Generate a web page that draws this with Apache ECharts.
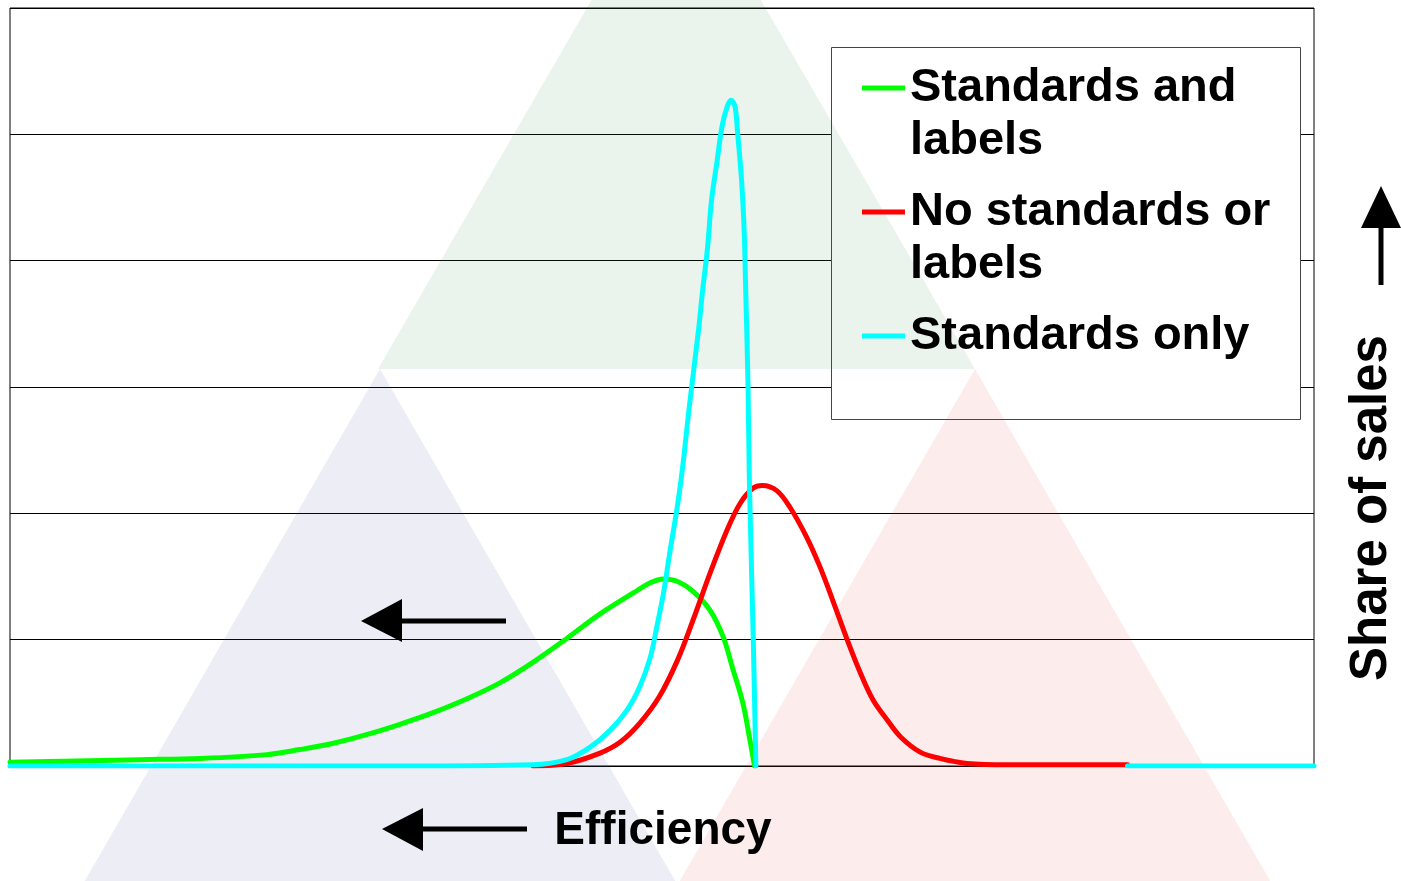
<!DOCTYPE html>
<html>
<head>
<meta charset="utf-8">
<script src="https://cdn.jsdelivr.net/npm/echarts@6/dist/echarts.min.js"></script>
<style>
  html, body { margin: 0; padding: 0; background: #fff; }
  #chart { width: 1401px; height: 881px; }
</style>
</head>
<body>
<div id="chart"></div>
<script>
// x = efficiency (0-100, arbitrary), y = share of sales (0-6, one grid step each)
var seriesNames = ['Standards and\nlabels', 'No standards or\nlabels', 'Standards only']
var seriesColors = ['#00ff00', '#ff0000', '#00ffff']

var standardsAndLabels = [
    [0, 0.03], [10.0, 0.05], [14.6, 0.06], [19.7, 0.09], [22.2, 0.13], [24.8, 0.18],
    [27.4, 0.25], [29.9, 0.33], [32.4, 0.42], [35.0, 0.53], [37.6, 0.66], [40.1, 0.82],
    [42.7, 1.01], [45.2, 1.20], [47.8, 1.37], [49.1, 1.45], [50.1, 1.48], [51.2, 1.46],
    [52.4, 1.38], [53.7, 1.23], [54.7, 1.02], [55.4, 0.78], [56.2, 0.50], [56.7, 0.23],
    [57.1, 0]
]
var noStandards = [
    [40.1, 0], [42.7, 0.02], [45.2, 0.10], [46.8, 0.19], [48.3, 0.34], [49.8, 0.55],
    [51.2, 0.84], [52.4, 1.16], [53.7, 1.53], [55.0, 1.87], [56.0, 2.08], [57.0, 2.20],
    [57.7, 2.22], [58.8, 2.18], [59.8, 2.05], [61.1, 1.81], [62.1, 1.58], [63.1, 1.31],
    [64.2, 1.00], [65.2, 0.74], [66.2, 0.52], [67.3, 0.36], [68.3, 0.23], [69.8, 0.11],
    [71.3, 0.06], [73.4, 0.02], [76.5, 0.01], [85.7, 0.01]
]
var standardsOnly = [
    [0, 0], [29.9, 0], [40.1, 0.01], [42.7, 0.05], [44.5, 0.15], [46.0, 0.28],
    [47.3, 0.44], [48.3, 0.63], [49.1, 0.86], [49.6, 1.10], [50.1, 1.36], [50.6, 1.69],
    [51.2, 2.07], [51.6, 2.38], [52.1, 2.85], [52.8, 3.45], [53.1, 3.75], [53.5, 4.11],
    [53.8, 4.48], [54.2, 4.77], [54.6, 5.06], [55.0, 5.22], [55.3, 5.27], [55.6, 5.22],
    [55.8, 5.01], [56.1, 4.64], [56.3, 4.24], [56.4, 3.85], [56.6, 3.00], [56.7, 2.26],
    [57.0, 1.00], [57.2, 0], [70, '-'], [85.7, 0], [100, 0]
]
var xRange = [0, 100]
var yRange = [0, 6]

var FONT = '"Liberation Sans", Arial, sans-serif'
var LINE_H = 53
var legendCenters = [88, 212, 336]

var chart = echarts.init(document.getElementById('chart'))

function makeLegend(name, i) {
    var n = name.split('\n').length
    return {
        data: [{ name: name, icon: 'rect' }],
        orient: 'vertical',
        left: 862,
        top: legendCenters[i] - (2 * n - 1) * LINE_H / 2,
        padding: 0,
        itemWidth: 43,
        itemHeight: 5,
        selectedMode: false,
        // blank lines first so the icon sits level with the first text line
        formatter: function (nm) {
            return new Array(nm.split('\n').length).join('\n') + nm
        },
        textStyle: {
            fontFamily: FONT,
            fontWeight: 'bold',
            fontSize: 47,
            lineHeight: LINE_H,
            color: '#000'
        }
    }
}

var lineData = [standardsAndLabels, noStandards, standardsOnly]

var option = {
    animation: false,
    backgroundColor: '#fff',
    grid: {
        left: 10, right: 87, top: 8, bottom: 115,
        show: true,
        borderColor: '#000',
        borderWidth: 1,
        backgroundColor: 'transparent'
    },
    legend: seriesNames.map(makeLegend),
    xAxis: {
        type: 'value',
        min: xRange[0], max: xRange[1],
        axisLine: { show: true, lineStyle: { color: '#000', width: 1 } },
        axisTick: { show: false },
        axisLabel: { show: false },
        splitLine: { show: false }
    },
    yAxis: {
        type: 'value',
        min: yRange[0], max: yRange[1], interval: 1,
        axisLine: { show: false },
        axisTick: { show: false },
        axisLabel: { show: false },
        splitLine: { show: true, lineStyle: { color: '#000', width: 1 } }
    },
    series: seriesNames.map(function (name, i) {
        return {
            name: name,
            type: 'line',
            data: lineData[i],
            symbol: 'none',
            smooth: 0.35,
            color: seriesColors[i],
            lineStyle: { color: seriesColors[i], width: 5, join: 'round', cap: 'round' }
        }
    }),
    graphic: [
        // background triangles
        { type: 'polygon', z: 1, silent: true,
          shape: { points: [[378, 369], [975, 369], [676, -146]] },
          style: { fill: 'rgba(45,135,65,0.1)' } },
        { type: 'polygon', z: 1, silent: true,
          shape: { points: [[380, 369], [83, 884], [677, 884]] },
          style: { fill: 'rgba(65,75,155,0.1)' } },
        { type: 'polygon', z: 1, silent: true,
          shape: { points: [[975, 369], [678, 884], [1272, 884]] },
          style: { fill: 'rgba(235,65,65,0.1)' } },
        // legend frame
        { type: 'rect', z: 0.5, silent: true,
          shape: { x: 831.5, y: 47.5, width: 469, height: 372 },
          style: { fill: '#fff', stroke: '#444', lineWidth: 1 } },
        // arrow in plot
        { type: 'polygon', z: 5, shape: { points: [[361, 621], [402, 599], [402, 642]] },
          style: { fill: '#000' } },
        { type: 'line', z: 5, shape: { x1: 400, y1: 621, x2: 506, y2: 621 },
          style: { stroke: '#000', lineWidth: 5 } },
        // efficiency arrow
        { type: 'polygon', z: 5, shape: { points: [[382, 829], [423, 808], [423, 851]] },
          style: { fill: '#000' } },
        { type: 'line', z: 5, shape: { x1: 421, y1: 829, x2: 527, y2: 829 },
          style: { stroke: '#000', lineWidth: 5 } },
        // share of sales arrow
        { type: 'polygon', z: 5, shape: { points: [[1381, 186], [1361, 228], [1401, 228]] },
          style: { fill: '#000' } },
        { type: 'line', z: 5, shape: { x1: 1381, y1: 226, x2: 1381, y2: 285 },
          style: { stroke: '#000', lineWidth: 5 } },
        { type: 'text', z: 5, x: 663, y: 831,
          style: { text: 'Efficiency', font: 'bold 46px ' + FONT, fill: '#000',
                   align: 'center', verticalAlign: 'middle' } },
        { type: 'text', z: 5, x: 1372, y: 508, rotation: Math.PI / 2,
          style: { text: 'Share of sales', font: 'bold 51px ' + FONT, fill: '#000',
                   align: 'center', verticalAlign: 'middle' } }
    ]
}
chart.setOption(option)
</script>
</body>
</html>
